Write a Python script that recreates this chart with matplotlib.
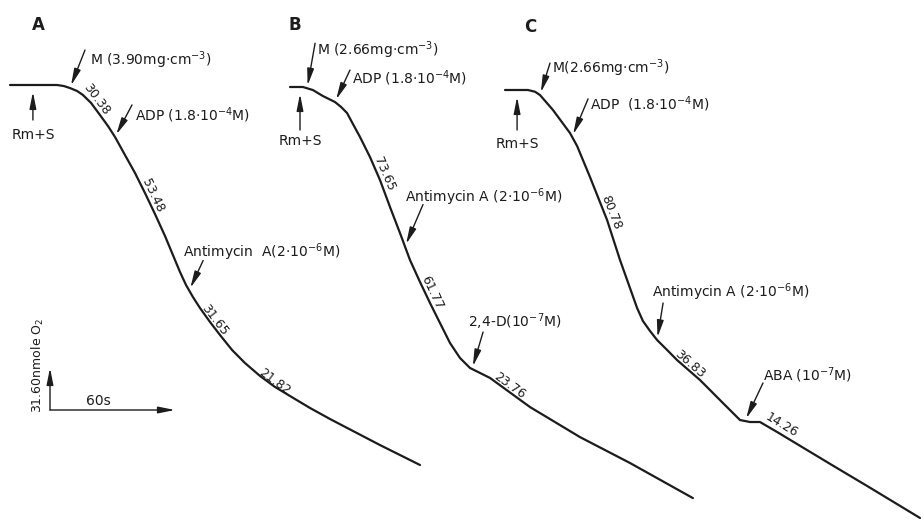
import numpy as np
import matplotlib
matplotlib.use("Agg")
import matplotlib.pyplot as plt

plt.rcParams['font.family'] = ['DejaVu Sans']
plt.rcParams['mathtext.default'] = 'regular'

# oxygen electrode traces: time (s) from start, O2 consumed (nmol) from start
trace_a_t = [0, 22.6, 25.9, 28.8, 32.2, 35.0, 38.9, 43.2, 47.0, 50.4, 55.2, 60.0, 64.8,
             69.6, 74.4, 78.2, 81.6, 84.5, 87.8, 91.2, 96.0, 100.8, 106.6, 112.8, 120.0,
             127.2, 134.4, 144.0, 153.6, 165.6, 177.6, 196.8]
trace_a_o2 = [0, 0, 0.8, 2.3, 4.5, 7.5, 13.5, 22.6, 30.8, 39.1, 52.7, 66.2, 81.3,
              97.1, 113.6, 127.9, 140.7, 150.5, 159.5, 167.8, 178.3, 188.1, 199.4, 209.2, 218.9,
              227.2, 234.0, 243.0, 251.3, 261.1, 270.9, 285.9]

trace_b_t = [0, 6.2, 11.0, 15.8, 21.6, 24.5, 27.4, 30.2, 33.6, 38.4, 43.2, 48.0, 52.8,
             57.6, 62.4, 67.2, 72.0, 76.8, 81.6, 86.4, 96.0, 115.2, 139.2, 163.2, 193.4]
trace_b_o2 = [0, 0, 2.3, 6.8, 11.3, 15.0, 19.6, 27.8, 37.6, 52.7, 70.0, 90.3, 109.9,
              130.2, 146.7, 162.5, 177.6, 192.6, 203.9, 211.4, 218.9, 240.8, 263.4, 282.9, 309.3]

trace_c_t = [0, 11.0, 14.4, 16.8, 23.0, 31.2, 34.6, 40.8, 49.0, 55.2, 63.4, 66.2, 69.6,
             73.0, 77.8, 82.6, 93.6, 104.6, 112.8, 117.6, 122.4, 130.6, 145.0, 157.4,
             173.8, 199.2]
trace_c_o2 = [0, 0, 1.3, 3.8, 15.0, 32.4, 42.1, 65.5, 97.8, 127.9, 164.0, 173.8, 181.3,
              188.1, 195.6, 203.2, 218.2, 235.5, 248.3, 249.8, 249.8, 257.3, 270.9, 282.6,
              297.9, 322.0]

# additions: (label, time in s)
events_a = [("Rm+S", 11.0), ("M (3.90mg·cm$^{-3}$)", 28.8), ("ADP (1.8·10$^{-4}$M)", 50.4),
            ("Antimycin  A(2·10$^{-6}$M)", 86.0)]
events_b = [("Rm+S", 4.8), ("M (2.66mg·cm$^{-3}$)", 8.2), ("ADP (1.8·10$^{-4}$M)", 21.6),
            ("Antimycin A (2·10$^{-6}$M)", 55.2), ("2,4-D(10$^{-7}$M)", 87.4)]
events_c = [("Rm+S", 5.8), ("M(2.66mg·cm$^{-3}$)", 16.8), ("ADP  (1.8·10$^{-4}$M)", 32.2),
            ("Antimycin A (2·10$^{-6}$M)", 73.0), ("ABA (10$^{-7}$M)", 115.2)]

# respiration rates written along the traces: (value, time in s)
rates_a = [("30.38", 39.0), ("53.48", 66.0), ("31.65", 96.5), ("21.82", 126.0)]
rates_b = [("73.65", 42.5), ("61.77", 65.5), ("23.76", 104.0)]
rates_c = [("80.78", 48.0), ("36.83", 87.0), ("14.26", 131.0)]

scale_time = 60       # s
scale_o2 = 31.60      # nmol O2

# ---- layout ----
W, H = 924, 522
PX_S = 125 / 60.0     # pixels per second
PX_N = 42 / 31.6      # pixels per nmol
INK = '#1c1c1c'

panels = [
    ("A", trace_a_t, trace_a_o2, events_a, rates_a, (10, 85), (38, 25),
     [(0, -35), (15, 38), (17, 32), (14, 30)],
     [(0, -15), (5, -10), (3, -10), (-20, 8)],
     [6, 6, 5, 4]),
    ("B", trace_b_t, trace_b_o2, events_b, rates_b, (290, 87), (295, 25),
     [(0, -43), (8, 45), (15, 32), (18, 42), (11, 37)],
     [(0, -11), (2, -7), (2, -8), (-18, 7), (-15, 10)],
     [6, 6, 5]),
    ("C", trace_c_t, trace_c_o2, events_c, rates_c, (505, 90), (530, 27),
     [(0, -40), (10, 32), (16, 38), (6, 37), (18, 38)],
     [(0, -14), (2, -5), (2, -5), (-11, 11), (0, 8)],
     [6, 5, 8]),
]

fig = plt.figure(figsize=(W / 100, H / 100), dpi=100)
fig.patch.set_facecolor('white')
ax = fig.add_axes([0, 0, 1, 1])
ax.set_xlim(0, W / PX_S)
ax.set_ylim(H / PX_N, 0)
ax.axis('off')

arrow_style = '-|>,head_length=1.0,head_width=0.2'

for name, t, o2, events, rates, origin, letter_pos, arr_off, txt_off, perp in panels:
    x0, y0 = origin[0] / PX_S, origin[1] / PX_N
    tx = x0 + np.array(t)
    ty = y0 + np.array(o2)
    ax.plot(tx, ty, color=INK, lw=1.6, solid_capstyle='round', solid_joinstyle='round')

    ax.text(letter_pos[0] / PX_S, letter_pos[1] / PX_N, name, fontsize=12,
            fontweight='bold', ha='center', va='center', color=INK)

    for (label, te), (adx, ady), (ldx, ldy) in zip(events, arr_off, txt_off):
        px = x0 + te
        py = y0 + np.interp(te, t, o2)
        gap = 5 if label == "Rm+S" else 2
        ax.annotate("", xy=(px, py), xytext=(adx, ady), textcoords='offset pixels',
                    arrowprops=dict(arrowstyle=arrow_style, color=INK, lw=1.0,
                                    shrinkA=0, shrinkB=gap, mutation_scale=10))
        if label == "Rm+S":
            ax.annotate(label, xy=(px, py), xytext=(adx + ldx, ady + ldy),
                        textcoords='offset pixels', ha='center', va='center',
                        fontsize=10, color=INK)
        else:
            ax.annotate(label, xy=(px, py), xytext=(adx + ldx, ady + ldy),
                        textcoords='offset pixels', ha='left', va='center',
                        fontsize=10, color=INK)

    for (val, tr), d in zip(rates, perp):
        i = np.searchsorted(t, tr)
        i = min(max(i, 1), len(t) - 1)
        dx = (t[i] - t[i - 1]) * PX_S
        dy = -(o2[i] - o2[i - 1]) * PX_N
        a = np.arctan2(dy, dx)
        nx, ny = -np.sin(a), np.cos(a)
        ax.annotate(val, xy=(x0 + tr, y0 + np.interp(tr, t, o2)),
                    xytext=(nx * d, ny * d), textcoords='offset pixels',
                    ha='center', va='center', rotation=np.degrees(a),
                    rotation_mode='anchor', fontsize=9, color=INK)

# scale bar
sx0, sy0 = 50 / PX_S, 410 / PX_N
ax.annotate("", xy=(sx0 + scale_time, sy0), xytext=(sx0, sy0),
            arrowprops=dict(arrowstyle=arrow_style, color=INK, lw=1.0,
                            shrinkA=0, shrinkB=0, mutation_scale=10))
ax.annotate("", xy=(sx0, sy0 - scale_o2), xytext=(sx0, sy0),
            arrowprops=dict(arrowstyle=arrow_style, color=INK, lw=1.0,
                            shrinkA=0, shrinkB=0, mutation_scale=10))
ax.annotate(f"{scale_time}s", xy=(sx0, sy0), xytext=(48, 9), textcoords='offset pixels',
            ha='center', va='center', fontsize=10, color=INK)
ax.annotate(f"{scale_o2:.2f}nmole O$_2$", xy=(sx0, sy0), xytext=(-12, -3),
            textcoords='offset pixels', ha='left', va='center', rotation=90,
            rotation_mode='anchor', fontsize=9, color=INK)

fig.savefig('out.png', dpi=100, facecolor='white')
